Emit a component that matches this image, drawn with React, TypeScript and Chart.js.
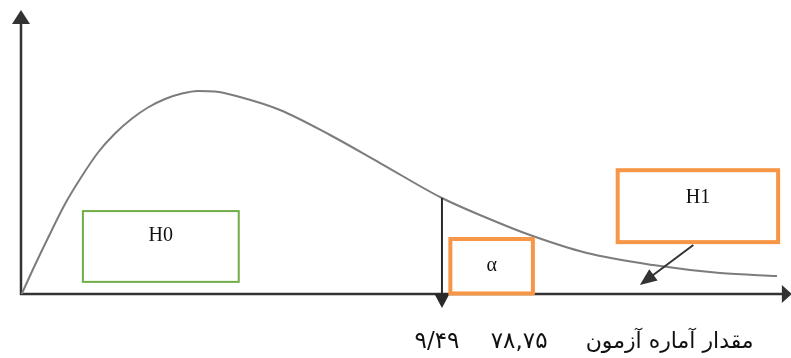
import React, { useEffect, useRef } from "react";
import { Chart, registerables } from "chart.js";

Chart.register(...registerables);

// Density curve, in chart units
const curveX = [0.09, 1.83, 3.53, 5.76, 7.98, 10.08, 12.3, 14.53, 16.62, 18.85, 21.07, 23.17, 25.39, 28.66, 33.9, 40.45, 47.0, 55.1, 61.0, 66.62, 74.08, 82.72, 91.49, 98.95];
const curveY = [0, 10.28, 19.86, 31.91, 41.84, 50.18, 56.91, 62.23, 66.13, 69.15, 71.1, 71.99, 71.81, 69.86, 65.25, 56.38, 46.45, 34.04, 26.95, 20.92, 14.54, 10.28, 7.45, 6.38];

// Critical value marker
const criticalX = 55.1;
const criticalTop = 34.04;

// Tick labels under the axis
const tickValues = [54.45, 65.2];
const tickLabels = ["۹/۴۹", "۷۸,۷۵"];
const axisTitle = "مقدار آماره آزمون";
const axisTitleX = 84.9;

// Annotation boxes [xMin, xMax, yMin, yMax]
const boxH0 = [8.1, 28.5, 4.3, 29.4];
const boxAlpha = [56.2, 67.0, 0.2, 19.5];
const boxH1 = [78.1, 99.1, 18.4, 43.9];
const boxLabels = ["H0", "α", "H1"];
// H1 pointer arrow [x1, y1, x2, y2]
const h1Arrow = [88.0, 17.4, 81.0, 3.2];

function arrowHead(ctx: CanvasRenderingContext2D, x1: number, y1: number, x2: number, y2: number, len: number, w: number) {
  const a = Math.atan2(y2 - y1, x2 - x1);
  const bx = x2 - len * Math.cos(a);
  const by = y2 - len * Math.sin(a);
  const px = -Math.sin(a) * (w / 2);
  const py = Math.cos(a) * (w / 2);
  ctx.beginPath();
  ctx.moveTo(x2, y2);
  ctx.lineTo(bx + px, by + py);
  ctx.lineTo(bx - px, by - py);
  ctx.closePath();
  ctx.fill();
}

function arrow(ctx: CanvasRenderingContext2D, x1: number, y1: number, x2: number, y2: number, len: number, w: number, color: string, lw: number) {
  ctx.save();
  ctx.strokeStyle = color;
  ctx.fillStyle = color;
  ctx.lineWidth = lw;
  const a = Math.atan2(y2 - y1, x2 - x1);
  ctx.beginPath();
  ctx.moveTo(x1, y1);
  ctx.lineTo(x2 - (len - 2) * Math.cos(a), y2 - (len - 2) * Math.sin(a));
  ctx.stroke();
  arrowHead(ctx, x1, y1, x2, y2, len, w);
  ctx.restore();
}

const overlay = {
  id: "overlay",
  beforeDatasetsDraw(chart: any) {
    const ctx: CanvasRenderingContext2D = chart.ctx;
    const xs = chart.scales.x;
    const ys = chart.scales.y;
    const X = (v: number) => xs.getPixelForValue(v);
    const Y = (v: number) => ys.getPixelForValue(v);
    const x0 = X(0);
    const y0 = Y(0);
    // y axis
    arrow(ctx, x0, y0 + 1, x0, Y(100.7), 14, 18, "#333333", 2.5);
    // x axis
    arrow(ctx, x0 - 1, y0, X(100.9), y0, 10, 18, "#333333", 2.5);
  },
  afterDatasetsDraw(chart: any) {
    const ctx: CanvasRenderingContext2D = chart.ctx;
    const xs = chart.scales.x;
    const ys = chart.scales.y;
    const X = (v: number) => xs.getPixelForValue(v);
    const Y = (v: number) => ys.getPixelForValue(v);

    // critical value arrow
    arrow(ctx, X(criticalX), Y(criticalTop), X(criticalX), Y(-5), 15, 16, "#2a2a2a", 2);

    // boxes
    const drawBox = (b: number[], color: string, lw: number, label: string, ty: number) => {
      ctx.save();
      ctx.strokeStyle = color;
      ctx.lineWidth = lw;
      const l = X(b[0]);
      const r = X(b[1]);
      const t = Y(b[3]);
      const bt = Y(b[2]);
      ctx.fillStyle = "#ffffff";
      ctx.fillRect(l, t, r - l, bt - t);
      ctx.strokeRect(l, t, r - l, bt - t);
      ctx.fillStyle = "#111111";
      ctx.font = "20px 'Liberation Serif', serif";
      ctx.textAlign = "center";
      ctx.textBaseline = "middle";
      ctx.fillText(label, (l + r) / 2, t + (bt - t) * ty);
      ctx.restore();
    };
    drawBox(boxH0, "#70AD47", 2, boxLabels[0], 0.35);
    drawBox(boxAlpha, "#F79646", 4, boxLabels[1], 0.5);
    drawBox(boxH1, "#F79646", 4, boxLabels[2], 0.38);

    // H1 pointer
    arrow(ctx, X(h1Arrow[0]), Y(h1Arrow[1]), X(h1Arrow[2]), Y(h1Arrow[3]), 17, 14, "#333333", 2);

    // labels below axis
    ctx.save();
    ctx.fillStyle = "#111111";
    ctx.textAlign = "center";
    ctx.textBaseline = "middle";
    ctx.font = "23px 'DejaVu Sans', sans-serif";
    const ly = Y(0) + 48;
    tickValues.forEach((v, i) => ctx.fillText(tickLabels[i], X(v), ly));
    ctx.font = "22px 'DejaVu Sans', sans-serif";
    ctx.direction = "rtl";
    ctx.fillText(axisTitle, X(axisTitleX), ly);
    ctx.restore();
  },
};

export default function App() {
  const ref = useRef<HTMLCanvasElement>(null);
  useEffect(() => {
    if (!ref.current) return;
    const chart = new Chart(ref.current, {
      type: "line",
      data: {
        datasets: [
          {
            data: curveX.map((x, i) => ({ x, y: curveY[i] })),
            borderColor: "#7c7c7c",
            borderWidth: 2,
            pointRadius: 0,
            cubicInterpolationMode: "monotone",
            fill: false,
          },
        ],
      },
      options: {
        animation: false,
        responsive: false,
        devicePixelRatio: 1,
        layout: { padding: { left: 21, right: 6, top: 12, bottom: 64 } },
        plugins: { legend: { display: false }, tooltip: { enabled: false } },
        scales: {
          x: { type: "linear", min: 0, max: 100, display: false },
          y: { type: "linear", min: 0, max: 100, display: false },
        },
      },
      plugins: [overlay],
    });
    return () => chart.destroy();
  }, []);
  return (
    <div style={{ position: "absolute", left: 0, top: 0, width: 791, height: 358, background: "#fff" }}>
      <canvas ref={ref} width={791} height={358} />
    </div>
  );
}
